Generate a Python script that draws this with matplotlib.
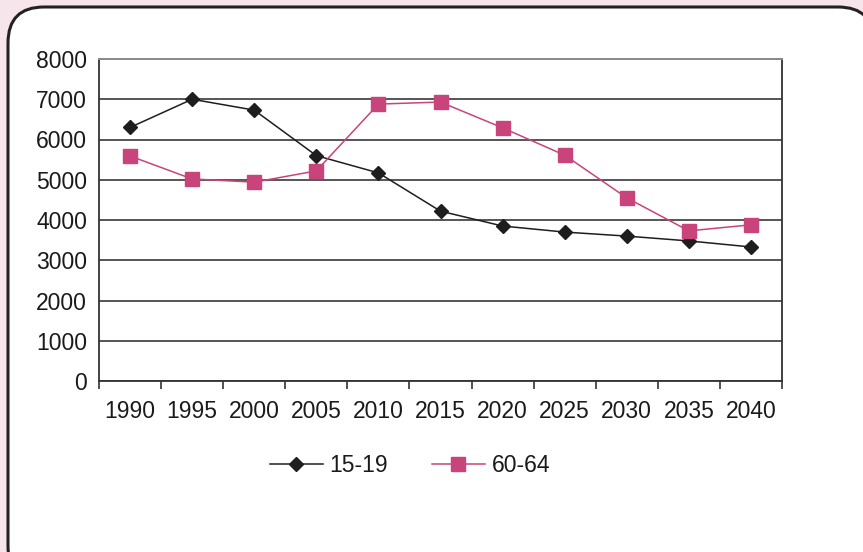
import matplotlib.pyplot as plt
import matplotlib.transforms as mtransforms
from matplotlib.patches import FancyBboxPatch
from matplotlib.lines import Line2D
import numpy as np

plt.rcParams['font.family'] = ['Liberation Sans', 'DejaVu Sans']

years = ['1990', '1995', '2000', '2005', '2010', '2015', '2020', '2025', '2030', '2035', '2040']
age_15_19 = [6300, 7000, 6730, 5600, 5170, 4220, 3850, 3700, 3600, 3480, 3330]
age_60_64 = [5590, 5020, 4940, 5220, 6880, 6930, 6290, 5610, 4550, 3730, 3880]

pink = '#c8447a'
dark = '#1e1e1e'

W, H = 863, 552
fig = plt.figure(figsize=(W / 100, H / 100), dpi=100)
fig.patch.set_facecolor('#f6e6ec')

# rounded white box, pixel coordinates (y up)
px = mtransforms.Affine2D().scale(1 / W, 1 / H) + fig.transFigure
box = FancyBboxPatch((8, -30), 866, H - 7 + 30,
                     boxstyle='round,pad=0,rounding_size=36',
                     transform=px, facecolor='white', edgecolor='#222222',
                     linewidth=2.2, zorder=-5)
fig.patches.append(box)

ax = fig.add_axes([99 / W, 1 - 381 / H, (782 - 99) / W, (381 - 59) / H])
ax.set_facecolor('none')

x = np.arange(len(years))
ax.plot(x, age_15_19, color=dark, lw=1.1, marker='D', ms=7, mfc=dark, mec=dark,
        label='15-19', zorder=3)
ax.plot(x, age_60_64, color=pink, lw=1.1, marker='s', ms=10.5, mfc=pink, mec=pink,
        label='60-64', zorder=3)

ax.set_xlim(-0.5, len(years) - 0.5)
ax.set_ylim(0, 8000)
ax.set_yticks(range(0, 8001, 1000))
ax.yaxis.grid(True, color='#555555', lw=1.4)
ax.set_axisbelow(True)

# category ticks between the points, labels centred on the points
ax.set_xticks(np.arange(-0.5, len(years), 1.0))
ax.set_xticklabels([])
ax.set_xticks(x, minor=True)
ax.set_xticklabels(years, minor=True)
ax.tick_params(axis='x', which='major', length=6, width=1.2, color='#333333')
ax.tick_params(axis='x', which='minor', length=0, pad=14, labelsize=16.5, labelcolor='#1a1a1a')
ax.tick_params(axis='y', length=0, pad=8.5, labelsize=16.5, labelcolor='#1a1a1a')

for s in ['left', 'right', 'bottom']:
    ax.spines[s].set_color('#333333')
    ax.spines[s].set_linewidth(1.3)
ax.spines['top'].set_color('#8a8a8a')
ax.spines['top'].set_linewidth(1.4)

handles = [Line2D([], [], color=dark, lw=1.1, marker='D', ms=7, mfc=dark, mec=dark),
           Line2D([], [], color=pink, lw=1.1, marker='s', ms=10.5, mfc=pink, mec=pink)]
fig.legend(handles, ['15-19', '60-64'], loc='center', bbox_to_anchor=(410 / W, 1 - 466 / H),
           ncol=2, frameon=False, fontsize=16.5, handlelength=2.3, columnspacing=1.9,
           handletextpad=0.3, labelcolor='#1a1a1a')

fig.savefig('out.png', dpi=100, facecolor=fig.get_facecolor())
